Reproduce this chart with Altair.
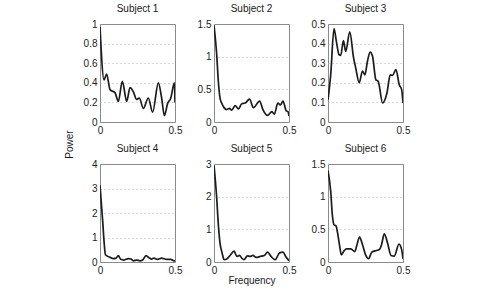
import altair as alt
import pandas as pd

FONT = "Liberation Sans"

# Power spectra per subject (frequency, power)
s1_freq = [0.0, 0.027, 0.044, 0.067, 0.089, 0.10, 0.122, 0.149, 0.178, 0.20, 0.222, 0.244,
           0.262, 0.289, 0.322, 0.351, 0.389, 0.411, 0.429, 0.451, 0.471, 0.496, 0.5]
s1_power = [0.97, 0.43, 0.49, 0.33, 0.31, 0.30, 0.21, 0.415, 0.21, 0.35, 0.31, 0.23,
            0.245, 0.14, 0.245, 0.10, 0.40, 0.245, 0.065, 0.19, 0.24, 0.40, 0.2]

s2_freq = [0.0, 0.018, 0.029, 0.04, 0.051, 0.067, 0.085, 0.103, 0.118, 0.141, 0.163, 0.185,
           0.208, 0.237, 0.263, 0.304, 0.326, 0.357, 0.386, 0.402, 0.426, 0.442, 0.46, 0.482,
           0.493, 0.5]
s2_power = [1.48, 1.03, 0.62, 0.37, 0.29, 0.22, 0.19, 0.21, 0.18, 0.25, 0.20, 0.28,
            0.29, 0.35, 0.22, 0.32, 0.19, 0.10, 0.16, 0.12, 0.29, 0.26, 0.32, 0.17,
            0.16, 0.09]

s3_freq = [0.0, 0.018, 0.04, 0.056, 0.074, 0.085, 0.103, 0.118, 0.145, 0.17, 0.185, 0.208,
           0.23, 0.246, 0.263, 0.281, 0.297, 0.319, 0.335, 0.364, 0.393, 0.415, 0.43, 0.453,
           0.475, 0.491, 0.5]
s3_power = [0.114, 0.24, 0.476, 0.41, 0.343, 0.34, 0.415, 0.36, 0.46, 0.33, 0.275, 0.2,
            0.26, 0.24, 0.31, 0.357, 0.335, 0.216, 0.207, 0.097, 0.148, 0.24, 0.238, 0.267,
            0.19, 0.165, 0.097]

s4_freq = [0.0, 0.018, 0.027, 0.036, 0.044, 0.067, 0.089, 0.107, 0.122, 0.138, 0.16, 0.189,
           0.207, 0.222, 0.244, 0.267, 0.284, 0.307, 0.329, 0.344, 0.36, 0.382, 0.411, 0.444,
           0.471, 0.493, 0.5]
s4_power = [3.13, 1.66, 0.84, 0.30, 0.26, 0.19, 0.14, 0.16, 0.26, 0.11, 0.08, 0.14,
            0.12, 0.05, 0.08, 0.05, 0.08, 0.26, 0.16, 0.12, 0.16, 0.11, 0.16, 0.11,
            0.11, 0.05, 0.05]

s5_freq = [0.0, 0.018, 0.029, 0.04, 0.054, 0.067, 0.085, 0.107, 0.134, 0.152, 0.170, 0.185,
           0.2, 0.223, 0.241, 0.259, 0.281, 0.308, 0.335, 0.357, 0.38, 0.408, 0.437, 0.46,
           0.478, 0.5]
s5_power = [2.96, 1.96, 1.14, 0.58, 0.28, 0.07, 0.09, 0.2, 0.33, 0.17, 0.2, 0.12,
            0.07, 0.19, 0.17, 0.2, 0.14, 0.17, 0.2, 0.30, 0.17, 0.07, 0.28, 0.30,
            0.17, 0.04]

s6_freq = [0.0, 0.018, 0.029, 0.04, 0.054, 0.062, 0.076, 0.089, 0.107, 0.123, 0.152, 0.179,
           0.192, 0.21, 0.23, 0.252, 0.27, 0.292, 0.313, 0.342, 0.357, 0.375, 0.397, 0.42,
           0.442, 0.473, 0.491, 0.5]
s6_power = [1.40, 1.08, 0.72, 0.57, 0.55, 0.47, 0.27, 0.11, 0.17, 0.20, 0.20, 0.16,
            0.255, 0.38, 0.265, 0.10, 0.05, 0.15, 0.17, 0.19, 0.265, 0.43, 0.29, 0.10,
            0.09, 0.275, 0.19, 0.05]

subjects = ["Subject 1", "Subject 2", "Subject 3", "Subject 4", "Subject 5", "Subject 6"]
freqs = [s1_freq, s2_freq, s3_freq, s4_freq, s5_freq, s6_freq]
powers = [s1_power, s2_power, s3_power, s4_power, s5_power, s6_power]
y_max = [1.0, 1.5, 0.5, 4.0, 3.0, 1.5]
y_ticks = [
    [0, 0.2, 0.4, 0.6, 0.8, 1],
    [0, 0.5, 1, 1.5],
    [0, 0.1, 0.2, 0.3, 0.4, 0.5],
    [0, 1, 2, 3, 4],
    [0, 1, 2, 3],
    [0, 0.5, 1, 1.5],
]
x_ticks = [0, 0.5]
x_label = "Frequency"
y_label = "Power"


def panel(i):
    df = pd.DataFrame({"freq": freqs[i], "power": powers[i]})
    x_kwargs = {"title": x_label} if i == 4 else {"title": ""}
    return alt.Chart(df).mark_line(
        color="#1c1c1c", strokeWidth=1.7, interpolate="monotone", clip=True
    ).encode(
        x=alt.X(
            "freq:Q",
            scale=alt.Scale(domain=[0, 0.5], nice=False, zero=False),
            axis=alt.Axis(values=x_ticks, format="~g", grid=False, labelFlush=False,
                          titlePadding=0),
            **x_kwargs,
        ),
        y=alt.Y(
            "power:Q",
            title="",
            scale=alt.Scale(domain=[0, y_max[i]], nice=False),
            axis=alt.Axis(
                values=y_ticks[i], format="~g", grid=True,
                gridDash=[1, 3], gridColor="#b4b4b4", gridWidth=1,
                gridOpacity={"condition": {"test": f"datum.value > 0 && datum.value < {y_max[i]}",
                                           "value": 1}, "value": 0},
                labelOverlap=False,
            ),
        ),
    ).properties(
        width=75, height=98,
        title=alt.TitleParams(subjects[i], font=FONT, fontSize=10, fontWeight="normal",
                              color="#1a1a1a", offset=5, anchor="middle"),
    )


chart = alt.concat(
    *[panel(i) for i in range(6)],
    columns=3, spacing={"row": 42, "column": 39}, bounds="flush",
    title=alt.TitleParams(y_label, orient="left", anchor="middle", font=FONT,
                          fontSize=10, fontWeight="normal", color="#1a1a1a", offset=8),
).properties(
    padding={"left": 64, "top": 3, "right": 5, "bottom": 5},
    background="white",
).configure_view(
    stroke="#8a8a8a", strokeWidth=1
).configure_axis(
    domain=False, ticks=False, labelFont=FONT, labelFontSize=10, labelColor="#222",
    labelPadding=3, titleFont=FONT, titleFontSize=10, titleFontWeight="normal",
    titleColor="#1a1a1a",
)

chart.save("out.html", embed_options={"renderer": "svg", "actions": False})
